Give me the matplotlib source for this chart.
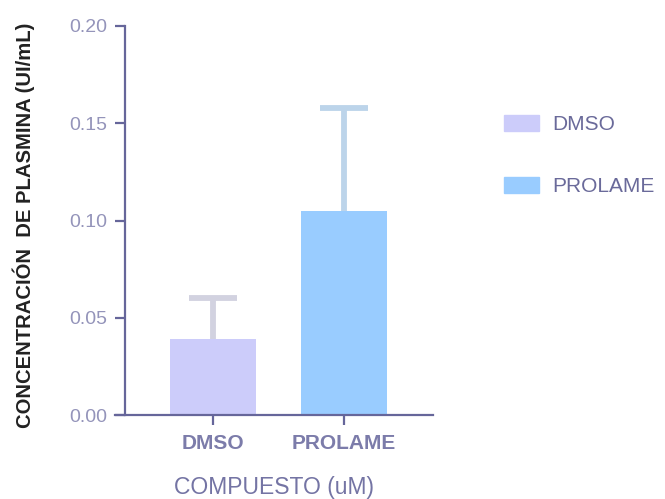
import matplotlib.pyplot as plt
from matplotlib.patches import Rectangle

# datos
compuestos = ['DMSO', 'PROLAME']
media = [0.039, 0.105]
error = [0.021, 0.053]
colores = ['#ccccfa', '#99ccff']
color_error = ['#d2d2e0', '#bcd4ea']
yticks = [0.00, 0.05, 0.10, 0.15, 0.20]

eje = '#66669a'
plt.rcParams['font.family'] = ['Liberation Sans', 'DejaVu Sans']

fig = plt.figure(figsize=(6.65, 4.99), dpi=100)
ax = fig.add_axes([115 / 665, 84 / 499, 318 / 665, 389 / 499])

x = list(range(len(compuestos)))
for i in x:
    ax.bar(x[i], media[i], width=0.66, color=colores[i], label=compuestos[i], zorder=2)
    # solo la barra de error hacia arriba
    _, caps, _ = ax.errorbar(x[i], media[i], yerr=[[0], [error[i]]], fmt='none',
                             ecolor=color_error[i], elinewidth=4.2, capsize=17,
                             capthick=4.2, zorder=1)
    caps[0].set_visible(False)

ax.set_xlim(-0.75, 1.68)
ax.set_ylim(0, 0.2)

# ejes estilo prism
ax.spines['top'].set_visible(False)
ax.spines['right'].set_visible(False)
ax.spines['left'].set_position(('data', -0.673))
ax.spines['left'].set_color(eje)
ax.spines['bottom'].set_color(eje)
ax.spines['left'].set_linewidth(1.6)
ax.spines['bottom'].set_linewidth(1.6)

ax.set_yticks(yticks)
ax.set_yticklabels(['%.2f' % v for v in yticks])
ax.set_xticks(x)
ax.set_xticklabels(compuestos)
ax.tick_params(axis='both', colors=eje, width=1.6, length=7.5)
ax.tick_params(axis='y', labelsize=14, labelcolor='#9494ba', pad=5)
ax.tick_params(axis='x', labelsize=15, labelcolor='#7c7caa', pad=6)
for t in ax.get_xticklabels():
    t.set_fontweight('bold')

ax.set_xlabel('COMPUESTO (uM)', fontsize=16.5, color='#7474a4', labelpad=17)
fig.text(0.036, 0.549, 'CONCENTRACIÓN  DE PLASMINA (UI/mL)', rotation=90,
         fontsize=14.6, fontweight='bold', color='#222222', ha='center', va='center')

handles = [Rectangle((0, 0), 1, 1, color=c) for c in colores]
ax.legend(handles, compuestos, loc='upper left', bbox_to_anchor=(1.165, 0.82),
          frameon=False, fontsize=15, labelcolor='#6a6a9a',
          handlelength=1.65, handleheight=0.8, handletextpad=0.65, labelspacing=2.05)

plt.savefig('out.png', dpi=100)
